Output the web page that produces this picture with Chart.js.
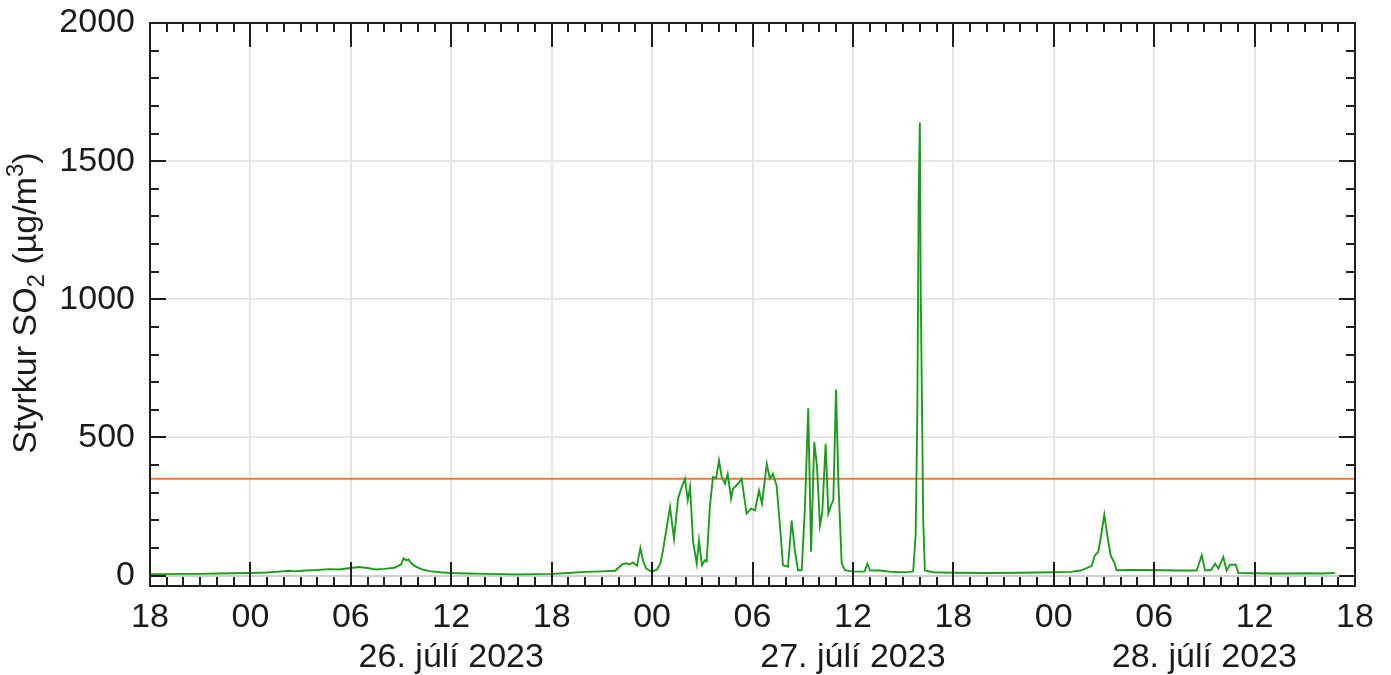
<!DOCTYPE html>
<html>
<head>
<meta charset="utf-8">
<script src="https://cdn.jsdelivr.net/npm/chart.js@4.4.1/dist/chart.umd.min.js"></script>
<style>
html,body{margin:0;padding:0;background:#fff;}
#wrap{width:1391px;height:675px;position:relative;}
</style>
</head>
<body>
<div id="wrap"><canvas id="c"></canvas></div>
<script>
// hours after 25 July 2023 18:00
const timesH = [0,1,2,3,4,5,6,7,7.7,8.3,8.7,9.3,10,10.7,11.3,12,12.5,13,13.5,14,14.6,15.0,15.15,15.3,15.45,15.6,15.8,16.2,16.7,17.3,18,19,20,21,22,23,24,25,26,27,27.8,28.2,28.45,28.65,28.85,29.1,29.3,29.45,29.65,29.85,30.0,30.3,30.5,30.65,31.07,31.31,31.55,31.77,31.97,32.13,32.27,32.45,32.67,32.8,32.98,33.15,33.26,33.46,33.64,33.82,34.0,34.16,34.36,34.52,34.72,34.83,35.13,35.35,35.65,35.91,36.15,36.39,36.57,36.85,37.04,37.22,37.44,37.64,37.82,38.12,38.34,38.54,38.72,38.94,39.13,39.33,39.5,39.69,39.85,40.03,40.17,40.37,40.53,40.69,40.83,40.99,41.13,41.33,41.53,41.93,42.42,42.7,42.86,43.02,43.6,44.2,44.8,45.3,45.6,45.75,45.85,45.93,46.0,46.05,46.12,46.2,46.3,46.8,48,50,52,54,55,55.6,55.97,56.27,56.46,56.66,56.8,57.02,57.2,57.4,57.6,57.76,58.5,59.5,60.5,61.5,62.54,62.84,63.04,63.4,63.64,63.84,64.13,64.33,64.53,64.88,65.03,66,67,68,69,70,70.8];
const so2Values = [5,5,6,6,7,8,9,11,14,17,15,18,20,23,22,27,31,27,22,24,28,40,62,55,58,45,35,23,16,12,9,7,6,5,4,5,6,9,13,15,17,40,44,40,47,35,100,55,25,18,14,22,45,90,248,133,278,320,350,272,320,122,43,127,37,55,51,254,357,352,416,357,332,368,278,314,332,350,224,242,236,308,260,404,350,368,326,181,37,32,199,86,19,19,242,605,86,483,398,181,230,477,224,254,272,673,338,43,19,15,14,15,43,19,18,14,12,13,15,150,600,1380,1640,1040,660,200,18,12,10,9,10,12,13,18,27,35,73,85,133,220,145,73,49,19,20,20,19,18,18,73,18,20,43,25,67,18,39,39,9,8,7,7,8,7,9];
const limitValue = 350;
const xTickLabels = ['18','00','06','12','18','00','06','12','18','00','06','12','18'];
const dayLabels = ['26. júlí 2023','27. júlí 2023','28. júlí 2023'];
const dayStartH = [6,30,54];
const yTickValues = [0,500,1000,1500,2000];

const X_MIN = 0, X_MAX = 72, Y_MIN = -38, Y_MAX = 2000;
const FONT = '"Liberation Sans", Arial, Helvetica, sans-serif';
const FS = 34;

const framePlugin = {
  id: 'frame',
  afterDraw(chart) {
    const {ctx, chartArea: a, scales: {x, y}} = chart;
    ctx.save();
    ctx.strokeStyle = '#1e1e1e';
    ctx.lineWidth = 2;
    ctx.beginPath();
    for (let h = X_MIN + 1; h < X_MAX; h++) {
      const px = Math.round(x.getPixelForValue(h));
      const L = (h % 6 === 0) ? 24 : 9;
      ctx.moveTo(px, a.bottom); ctx.lineTo(px, a.bottom - L);
      ctx.moveTo(px, a.top); ctx.lineTo(px, a.top + L);
    }
    for (let v = 0; v < Y_MAX; v += 100) {
      const py = Math.round(y.getPixelForValue(v));
      const L = (v % 500 === 0) ? 16 : 9;
      ctx.moveTo(a.left, py); ctx.lineTo(a.left + L, py);
      ctx.moveTo(a.right, py); ctx.lineTo(a.right - L, py);
    }
    ctx.stroke();
    ctx.strokeRect(a.left, a.top, a.right - a.left, a.bottom - a.top);

    // date labels
    ctx.fillStyle = '#1a1a1a';
    ctx.font = FS + 'px ' + FONT;
    ctx.textAlign = 'center';
    ctx.textBaseline = 'alphabetic';
    dayLabels.forEach((lab, i) => {
      const s = Math.max(dayStartH[i], X_MIN), e = Math.min(dayStartH[i] + 24, X_MAX);
      const cx = x.getPixelForValue((s + e) / 2);
      ctx.fillText(lab, cx, 667);
    });

    // y-axis title with sub/superscript
    const parts = [
      {t: 'Styrkur SO', s: 1, dy: 0},
      {t: '2', s: 0.7, dy: 8},
      {t: ' (µg/m', s: 1, dy: 0},
      {t: '3', s: 0.7, dy: -13},
      {t: ')', s: 1, dy: 0}
    ];
    let total = 0;
    parts.forEach(p => { ctx.font = Math.round(FS * p.s) + 'px ' + FONT; p.w = ctx.measureText(p.t).width; total += p.w; });
    const cy = 303;
    ctx.translate(36, cy + total / 2);
    ctx.rotate(-Math.PI / 2);
    ctx.textAlign = 'left';
    let u = 0;
    parts.forEach(p => {
      ctx.font = Math.round(FS * p.s) + 'px ' + FONT;
      ctx.fillText(p.t, u, p.dy);
      u += p.w;
    });
    ctx.restore();
  }
};

new Chart(document.getElementById('c'), {
  type: 'line',
  data: {
    datasets: [
      {
        data: timesH.map((t, i) => ({x: t, y: so2Values[i]})),
        borderColor: '#1f9a1f',
        borderWidth: 1.9,
        pointRadius: 0,
        tension: 0,
        fill: false
      },
      {
        data: [{x: X_MIN, y: limitValue}, {x: X_MAX, y: limitValue}],
        borderColor: '#f57a35',
        borderWidth: 2,
        pointRadius: 0,
        fill: false
      }
    ]
  },
  options: {
    responsive: true,
    maintainAspectRatio: false,
    animation: false,
    events: [],
    layout: {padding: {top: 23, right: 36, left: 0, bottom: 0}},
    plugins: {legend: {display: false}, tooltip: {enabled: false}},
    scales: {
      x: {
        type: 'linear',
        min: X_MIN, max: X_MAX,
        afterFit: s => { s.height = 89; s.paddingLeft = 0; s.paddingRight = 0; },
        ticks: {
          stepSize: 6, autoSkip: false, maxRotation: 0,
          padding: 11,
          color: '#1a1a1a',
          font: {family: FONT, size: FS},
          callback: (v, i) => xTickLabels[i]
        },
        grid: {color: '#e6e6e6', lineWidth: 2, drawTicks: false},
        border: {display: false}
      },
      y: {
        min: Y_MIN, max: Y_MAX,
        afterFit: s => { s.width = 150; s.paddingTop = 0; s.paddingBottom = 0; },
        afterBuildTicks: s => { s.ticks = yTickValues.map(v => ({value: v})); },
        ticks: {
          padding: 15,
          color: '#1a1a1a',
          font: {family: FONT, size: FS},
          callback: v => String(v)
        },
        grid: {
          color: c => (c.tick && c.tick.value === 0) ? '#cfcfcf' : '#e6e6e6',
          lineWidth: 2, drawTicks: false
        },
        border: {display: false}
      }
    }
  },
  plugins: [framePlugin]
});
</script>
</body>
</html>
